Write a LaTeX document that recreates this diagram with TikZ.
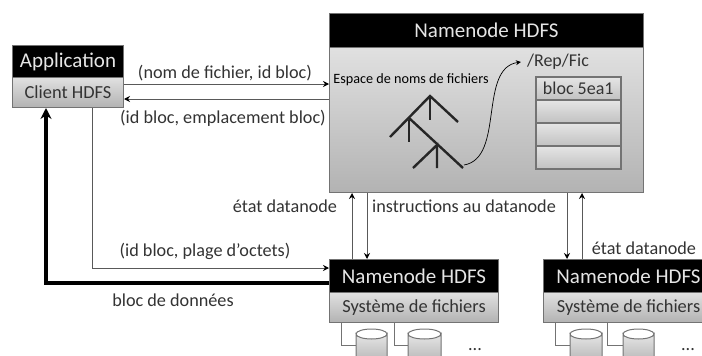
\documentclass[tikz,border=0pt]{standalone}
\usepackage{fontspec}
\setmainfont{Carlito}
\usepackage{tikz}
\usetikzlibrary{arrows.meta}
\definecolor{boxline}{gray}{.45}
\definecolor{linegray}{gray}{.35}
\definecolor{labelgray}{gray}{.2}
\tikzset{
	headbox/.style={draw=boxline, fill=black, text=white!90!black, line width=1pt, anchor=north west, inner sep=0pt, font=\fontsize{21}{21}\selectfont},
	bodybox/.style={draw=boxline, top color=black!12, bottom color=black!30, line width=1pt, anchor=north west, inner sep=0pt, text=labelgray, font=\fontsize{18.4}{18.4}\selectfont},
	rowbox/.style={draw=boxline, top color=black!10, bottom color=black!24, line width=1.5pt, anchor=north west, inner sep=0pt, minimum width=85pt, minimum height=23pt, text=labelgray, font=\fontsize{18}{18}\selectfont},
	msg/.style={text=labelgray, inner sep=0pt, font=\fontsize{18.2}{18.2}\selectfont},
	link/.style={draw=linegray, line width=1pt, -{Stealth[length=6pt,width=6pt,black]}},
	wire/.style={draw=boxline, line width=1pt},
	treeline/.style={black!85, line width=2.4pt},
}
\begin{document}
\begin{tikzpicture}[x=1pt, y=-1pt]
	\useasboundingbox (0,0) rectangle (702,356);
	% boites
	\node[bodybox, minimum width=111pt, minimum height=30pt] (clientbody) at (12,77) {Client HDFS\hspace{9pt}};
	\node[headbox, minimum width=111pt, minimum height=32pt] (apphead) at (12,45) {Application};
	\node[bodybox, minimum width=314pt, minimum height=145pt] (nnbody) at (329,47) {};
	\node[headbox, minimum width=314pt, minimum height=34pt] (nnhead) at (329,13) {Namenode HDFS\hspace{10pt}};
	\node[bodybox, minimum width=169pt, minimum height=30pt] (dnabody) at (329,292) {Système de fichiers};
	\node[headbox, minimum width=169pt, minimum height=33pt] (dnahead) at (329,259) {Namenode HDFS\hspace{7pt}};
	\node[bodybox, minimum width=170pt, minimum height=30pt] (dnbbody) at (543,292) {Système de fichiers\hspace{4pt}};
	\node[headbox, minimum width=170pt, minimum height=33pt] (dnbhead) at (543,259) {Namenode HDFS};
	% table de blocs
	\node[rowbox] (rowa) at (535,76) {bloc 5ea1};
	\foreach \i/\y in {b/99,c/122,d/145} {
		\node[rowbox] (row\i) at (535,\y) {};
	}
	\node[msg, font=\fontsize{14.2}{14.2}\selectfont, text=black] (espace) at (411,80) {Espace de noms de fichiers};
	\node[msg, font=\fontsize{18}{18}\selectfont] (repfic) at (558,62) {/Rep/Fic};
	% arbre
	\draw[treeline] (390,137) -- (430,96) -- (458,122);
	\draw[treeline] (430,96) -- (430,120);
	\draw[treeline] (409,118) -- (463,168);
	\draw[treeline] (409,120) -- (409,142);
	\draw[treeline] (413,168) -- (437,145) -- (437,168);
	\coordinate (treeend) at (464,165);
	\draw[black, line width=.7pt, -{Stealth[length=5pt,width=5pt]}] (treeend) .. controls (505,158) and (478,68) .. ([xshift=-6pt]repfic.west);
	% fleches
	\draw[link] ([yshift=-7pt]clientbody.north east) -- ([yshift=-37pt]nnbody.north west);
	\draw[link] ([yshift=-52pt]nnbody.north west) -- ([yshift=-22pt]clientbody.north east);
	\draw[link] ([xshift=80pt]clientbody.south west) |- ([yshift=-9pt]dnahead.north west);
	\draw[draw=black, line width=3.2pt, -{Stealth[length=11pt,width=11pt]}] ([yshift=-24pt]dnahead.north west) -| ([xshift=34pt]clientbody.south west);
	\draw[link] ([xshift=23pt]dnahead.north west) -- ([xshift=23pt]nnbody.south west);
	\draw[link] ([xshift=38pt]nnbody.south west) -- ([xshift=38pt]dnahead.north west);
	\draw[link] ([xshift=238pt]nnbody.south west) -- ([xshift=24pt]dnbhead.north west);
	\draw[link] ([xshift=39pt]dnbhead.north west) -- ([xshift=253pt]nnbody.south west);
	% etiquettes
	\node[msg] (nomfic) at (225,73) {(nom de fichier, id bloc)};
	\node[msg] (idbloc) at (223,118) {(id bloc, emplacement bloc)};
	\node[msg] (etata) at (285,206) {état datanode};
	\node[msg] (instr) at (464,206) {instructions au datanode};
	\node[msg] (etatb) at (644,248) {état datanode};
	\node[msg] (plage) at (205,251) {(id bloc, plage d'octets)};
	\node[msg] (donnees) at (173,300) {bloc de données};
	% disques
	\foreach \x/\w in {356/31,408/33,570/32,623/31} {
		\draw[wire, top color=black!10, bottom color=black!30] (\x,334) arc[start angle=180, end angle=0, x radius=\w/2, y radius=5] -- ++(0,30) -- ++(-\w,0) -- cycle;
		\draw[wire] (\x,334) arc[start angle=180, end angle=360, x radius=\w/2, y radius=5];
	}
	\coordinate (diska) at (356,345);
	\coordinate (diskb) at (408,345);
	\coordinate (diskc) at (570,345);
	\coordinate (diskd) at (623,345);
	\draw[wire] ([xshift=12pt]dnabody.south west) |- (diska);
	\draw[wire] ([xshift=65pt]dnabody.south west) |- (diskb);
	\draw[wire] ([xshift=12pt]dnbbody.south west) |- (diskc);
	\draw[wire] ([xshift=64pt]dnbbody.south west) |- (diskd);
	\node[msg, anchor=base] (dotsa) at (475,350) {...};
	\node[msg, anchor=base] (dotsb) at (688,350) {...};
\end{tikzpicture}
\end{document}
